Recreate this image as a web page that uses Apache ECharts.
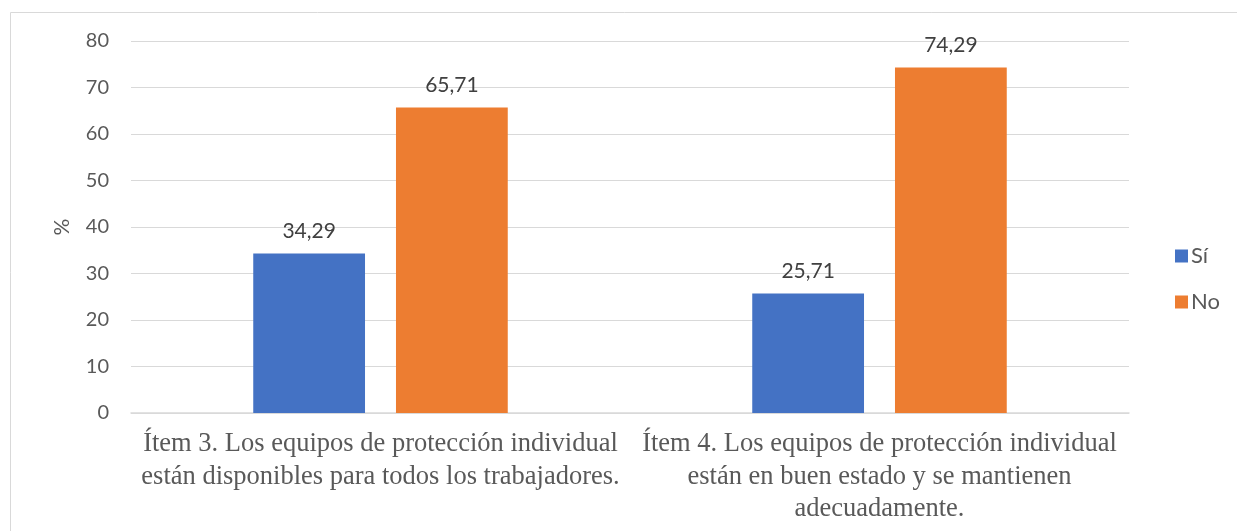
<!DOCTYPE html>
<html><head><meta charset="utf-8">
<script src="https://cdn.jsdelivr.net/npm/echarts@6/dist/echarts.min.js"></script>
<style>html,body{margin:0;padding:0;background:#fff}#c{width:1237px;height:531px}</style>
</head><body><div id="c"></div>
<script>
const categories = ['Ítem 3. Los equipos de protección individual\nestán disponibles para todos los trabajadores.', 'Ítem 4. Los equipos de protección individual\nestán en buen estado y se mantienen\nadecuadamente.'];
const seriesNames = ['Sí', 'No'];
const siValues = [34.29, 25.71];
const noValues = [65.71, 74.29];
const yTicks = [0, 10, 20, 30, 40, 50, 60, 70, 80];

const chart = echarts.init(document.getElementById('c'));
const labelFmt = p => String(p.value.toFixed(2)).replace('.', ',');
const sans = 'Lato, "Open Sans", sans-serif';
chart.setOption({
  animation: false,
  graphic: [{type: 'rect', shape: {x: 10.5, y: 12.5, width: 1300, height: 600}, style: {fill: 'none', stroke: '#d9d9d9', lineWidth: 1}, silent: true}],
  grid: {left: 131, right: 108, top: 41, bottom: 118},
  legend: {
    orient: 'vertical', left: 1170, top: 240, itemWidth: 13, itemHeight: 13, itemGap: 24,
    icon: 'rect',
    textStyle: {fontFamily: sans, fontSize: 22, color: '#595959', padding: [0,0,0,-2]},
    data: seriesNames
  },
  xAxis: {
    type: 'category', data: categories,
    axisLine: {lineStyle: {color: '#d9d9d9', width: 1.5}},
    axisTick: {show: false},
    axisLabel: {fontFamily: '"Liberation Serif", "Times New Roman", serif', fontSize: 26.5, color: '#595959', lineHeight: 32.5, margin: 15, interval: 0}
  },
  yAxis: {
    type: 'value', min: 0, max: 80, interval: 10,
    name: '%', nameLocation: 'middle', nameGap: 58, nameRotate: 90,
    nameTextStyle: {fontFamily: sans, fontSize: 21, color: '#595959'},
    axisLine: {show: false}, axisTick: {show: false},
    splitLine: {lineStyle: {color: '#d9d9d9', width: 1}},
    axisLabel: {fontFamily: sans, fontSize: 20, color: '#595959', margin: 22,
      formatter: v => yTicks.includes(v) ? String(v) : ''}
  },
  series: [
    {name: seriesNames[0], type: 'bar', data: siValues, barWidth: '22.4%', barGap: '27.7%',
     itemStyle: {color: '#4472c4'},
     label: {show: true, position: 'top', distance: 12, formatter: labelFmt, fontFamily: sans, fontSize: 21, color: '#404040'}},
    {name: seriesNames[1], type: 'bar', data: noValues, barWidth: '22.4%',
     itemStyle: {color: '#ed7d31'},
     label: {show: true, position: 'top', distance: 12, formatter: labelFmt, fontFamily: sans, fontSize: 21, color: '#404040'}}
  ]
});
</script></body></html>
